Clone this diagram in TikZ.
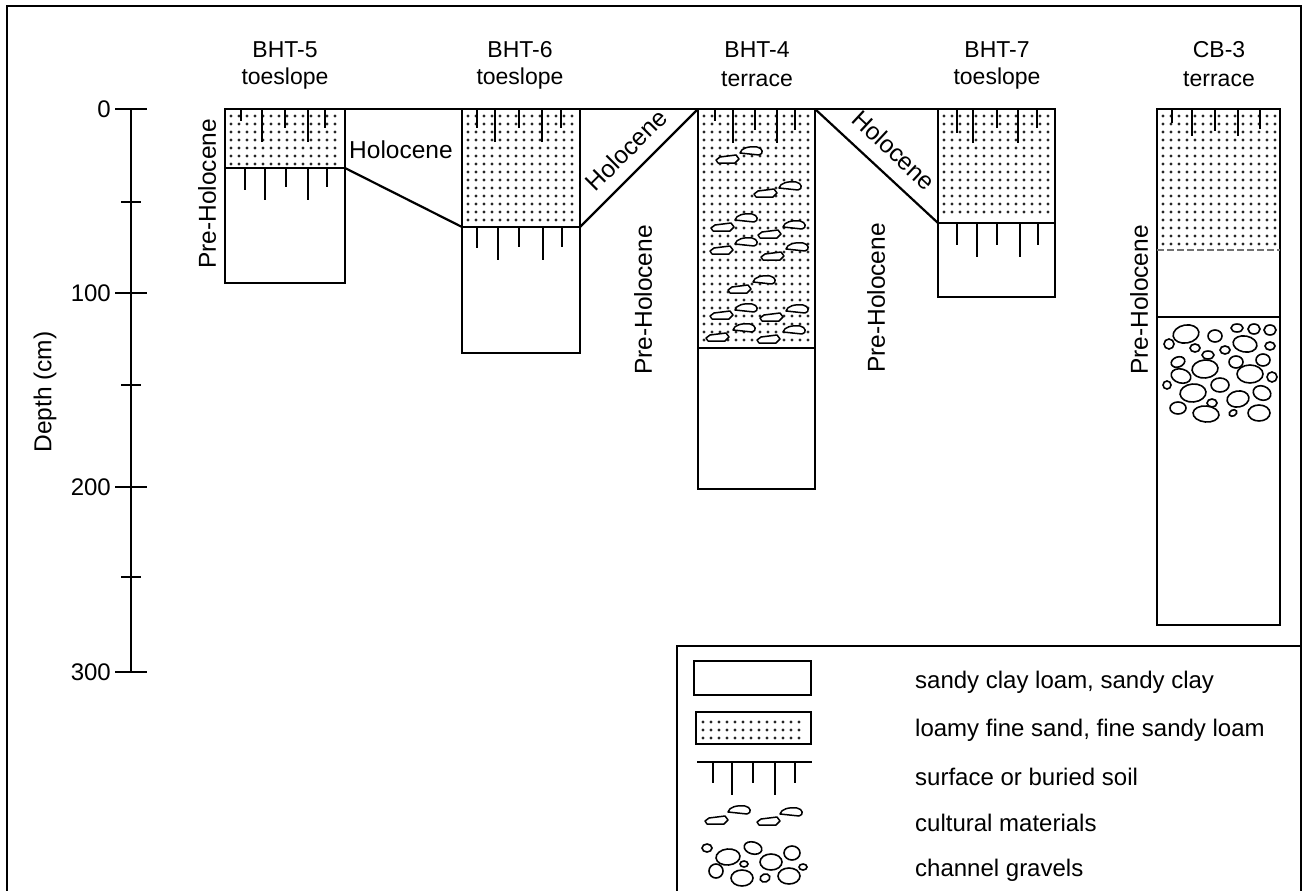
\documentclass[tikz,border=0pt]{standalone}
\usepackage{fontspec}
\setmainfont{Liberation Sans}
% dot grid for sandy layers: #1 = x list, #2 = y list
\newcommand{\sandgrid}[2]{\foreach \xx in {#1}{\foreach \yy in {#2}{\fill[sanddot] (\xx,\yy) circle (1.55pt);}}}
% soil ticks hanging from a horizon: #1 = y of horizon, #2 = list x/length
\newcommand{\soilticks}[2]{\foreach \xx/\ll in {#2}{\draw[soil] (\xx,#1) -- ++(0,\ll);}}
\begin{document}
\begin{tikzpicture}[x=1pt,y=-1pt,
  lbl/.style={font=\fontsize{24}{28}\selectfont, inner sep=0pt},
  ttl/.style={font=\fontsize{23}{27}\selectfont, inner sep=0pt},
  unitlbl/.style={font=\fontsize{24.5}{28}\selectfont, inner sep=0pt},
  outline/.style={line width=2.2pt, line join=miter},
  soil/.style={line width=1.8pt},
  sanddot/.style={fill=black!85},
  artline/.style={draw=black, fill=white, line width=1.5pt, line join=round},
  gravel/.style={draw=black, fill=white, line width=1.6pt},
  artA/.pic={\draw[artline] (0,1) -- (4,-2) -- (20,-4) -- (23,0) -- (19,4) -- (2,4) -- cycle;},
  artB/.pic={\draw[artline] (0,2) .. controls (1,-3) and (9,-5) .. (17,-4) .. controls (23,-3) and (24,3) .. (19,4) -- cycle;},
]
\useasboundingbox (0,0) rectangle (1304,891);

% outer frame
\draw[line width=2.8pt] (7,891) -- (7,6) -- (1301,6) -- (1301,891);

% ---------- depth axis ----------
\coordinate (ax0) at (131,109);
\coordinate (ax300) at (131,672);
\draw[line width=1.8pt] (ax0) -- (ax300);
\foreach \yy in {109,293,487,672}{\draw[line width=1.8pt] (115,\yy) -- (147,\yy);}
\foreach \yy in {202,385,577}{\draw[line width=1.8pt] (121,\yy) -- (141,\yy);}
\node[lbl, anchor=east] (d0) at (111,109) {0};
\node[lbl, anchor=east] (d100) at (111,293) {100};
\node[lbl, anchor=east] (d200) at (111,487) {200};
\node[lbl, anchor=east] (d300) at (111,672) {300};
\node[unitlbl, rotate=90] (depth) at (45,392) {Depth (cm)};

% ---------- column titles ----------
\node[ttl] (t5a) at (285,50) {BHT-5};   \node[ttl] (t5b) at (285,79) {toeslope};
\node[ttl] (t6a) at (520,50) {BHT-6};   \node[ttl] (t6b) at (520,79) {toeslope};
\node[ttl] (t4a) at (757,50) {BHT-4};   \node[ttl] (t4b) at (757,79) {terrace};
\node[ttl] (t7a) at (997,50) {BHT-7};   \node[ttl] (t7b) at (997,79) {toeslope};
\node[ttl] (tca) at (1219,50) {CB-3};   \node[ttl] (tcb) at (1219,79) {terrace};

% ---------- column corner coordinates ----------
\coordinate (b5tl) at (225,109); \coordinate (b5tr) at (345,109);
\coordinate (b5ml) at (225,168); \coordinate (b5mr) at (345,168);
\coordinate (b5br) at (345,283);
\coordinate (b6tl) at (462,109); \coordinate (b6ml) at (462,227);
\coordinate (b6mr) at (580,227); \coordinate (b6br) at (580,353);
\coordinate (b4tl) at (698,109); \coordinate (b4tr) at (815,109);
\coordinate (b4ml) at (698,348); \coordinate (b4mr) at (815,348);
\coordinate (b4br) at (815,489);
\coordinate (b7tl) at (938,109); \coordinate (b7tr) at (1055,109);
\coordinate (b7ml) at (938,223); \coordinate (b7mr) at (1055,223);
\coordinate (b7br) at (1055,297);
\coordinate (cbtl) at (1157,109); \coordinate (cbtr) at (1280,109);
\coordinate (cbsl) at (1157,250); \coordinate (cbsr) at (1280,250);
\coordinate (cbgl) at (1157,317); \coordinate (cbgr) at (1280,317);
\coordinate (cbbr) at (1280,625);

% ---------- sandy layers ----------
\sandgrid{231,239,...,341}{116,124,...,164}
\sandgrid{468,476,...,576}{116,124,...,222}
\sandgrid{704,712,...,811}{116,124,...,344}
\sandgrid{944,952,...,1051}{116,124,...,218}
\sandgrid{1163,1171,...,1276}{116,124,...,246}

% ---------- soil horizons ----------
\soilticks{109}{241/12,262/33,285/19,308/33,325/19}
\soilticks{168}{245/22,265/32,286/19,308/32,327/19}
\soilticks{109}{477/19,495/33,519/19,542/33,561/19}
\soilticks{227}{477/21,498/33,519/20,543/33,562/20}
\soilticks{109}{715/12,733/34,755/21,777/34,795/21}
\soilticks{109}{957/24,973/34,997/19,1018/34,1037/19}
\soilticks{223}{957/22,977/34,997/22,1020/34,1038/22}
\soilticks{109}{1172/14,1192/27,1215/22,1238/27,1260/20}

% ---------- cultural materials in BHT-4 ----------
\foreach \xx/\yy in {716/159,754/193,711/227,758/234,710/250,761/256,728/289,710/315,760/317,706/337,757/339}
  {\pic at (\xx,\yy) {artA};}
\foreach \xx/\yy in {740/151,779/186,735/218,783/225,735/242,786/247,753/280,735/308,786/309,733/328,783/330}
  {\pic at (\xx,\yy) {artB};}

% ---------- channel gravels in CB-3 ----------
\foreach \xx/\yy/\rx/\ry/\aa in {
  1186/334/13/9/10, 1169/344/5/5/0, 1215/336/7/6/0, 1195/348/5/4/0,
  1237/328/6/4/0, 1254/329/6/5/0, 1270/330/6/5/0, 1245/344/12/8/-10,
  1270/346/5/4/0, 1208/355/6/4/0, 1225/350/5/4/0, 1178/362/7/5/20,
  1205/369/13/9/5, 1236/362/7/6/0, 1263/360/7/6/0, 1181/376/10/7/-15,
  1250/374/13/9/0, 1272/377/5/5/0, 1167/385/4/4/0, 1193/393/13/9/5,
  1220/385/9/7/0, 1262/393/9/7/-20, 1212/403/5/4/0, 1238/399/11/8/10,
  1178/408/8/6/0, 1206/414/13/8/-5, 1233/413/4/3/30, 1259/413/11/8/0}
  {\draw[gravel, rotate around={\aa:(\xx,\yy)}] (\xx,\yy) ellipse [x radius=\rx pt, y radius=\ry pt];}

% ---------- column outlines and boundaries ----------
\draw[outline] (b5tl) rectangle (b5br);
\draw[outline] (b5ml) -- (b5mr);
\draw[outline] (b6tl) rectangle (b6br);
\draw[outline] (b6ml) -- (b6mr);
\draw[outline] (b4tl) rectangle (b4br);
\draw[outline] (b4ml) -- (b4mr);
\draw[outline] (b7tl) rectangle (b7br);
\draw[outline] (b7ml) -- (b7mr);
\draw[outline] (cbtl) rectangle (cbbr);
\draw[line width=1.2pt, black!55, dash pattern=on 7pt off 3pt] (cbsl) -- (cbsr);
\draw[outline] (cbgl) -- (cbgr);
% ground surface and Holocene fills
\draw[outline] (b5tl) -- (b7tr);
\draw[outline] (b5mr) -- (b6ml);
\draw[outline] (b6mr) -- (b4tl);
\draw[outline] (b4tr) -- (b7ml);

% ---------- unit labels ----------
\node[unitlbl, rotate=90] (ph5) at (207,194) {Pre-Holocene};
\node[unitlbl] (h56) at (401,150) {Holocene};
\node[unitlbl, rotate=45] (h64) at (626,150) {Holocene};
\node[unitlbl, rotate=90] (ph64) at (643,300) {Pre-Holocene};
\node[unitlbl, rotate=-43] (h47) at (894,150) {Holocene};
\node[unitlbl, rotate=90] (ph47) at (876,298) {Pre-Holocene};
\node[unitlbl, rotate=90] (phcb) at (1139,300) {Pre-Holocene};

% ---------- legend ----------
\draw[line width=1.8pt] (677,891) -- (677,646) -- (1301,646);
\coordinate (l1a) at (694,661); \coordinate (l1b) at (811,695);
\coordinate (l2a) at (696,712); \coordinate (l2b) at (811,744);
\sandgrid{703,711,...,803}{722,730,738}
\draw[outline] (l1a) rectangle (l1b);
\draw[outline] (l2a) rectangle (l2b);
\coordinate (l3a) at (697,762); \coordinate (l3b) at (812,762);
\draw[soil] (l3a) -- (l3b);
\soilticks{762}{713/21,732/33,753/21,775/33,795/21}
\pic at (705,820) {artA}; \pic at (728,810) {artB};
\pic at (757,821) {artA}; \pic at (780,812) {artB};
\foreach \xx/\yy/\rx/\ry/\aa in {
  707/848/5/4/0, 728/857/12/8/5, 753/848/9/6/-15, 771/862/11/8/0,
  792/853/8/7/0, 716/871/7/7/0, 744/864/4/3/0, 742/878/11/8/0,
  765/878/5/4/20, 789/876/11/8/0, 803/867/4/3/0}
  {\draw[gravel, rotate around={\aa:(\xx,\yy)}] (\xx,\yy) ellipse [x radius=\rx pt, y radius=\ry pt];}
\node[lbl, anchor=west] (k1) at (915,682) {sandy clay loam, sandy clay};
\node[lbl, anchor=west] (k2) at (915,730) {loamy fine sand, fine sandy loam};
\node[lbl, anchor=west] (k3) at (915,777) {surface or buried soil};
\node[lbl, anchor=west] (k4) at (915,823) {cultural materials};
\node[lbl, anchor=west] (k5) at (915,870) {channel gravels};
\end{tikzpicture}
\end{document}
